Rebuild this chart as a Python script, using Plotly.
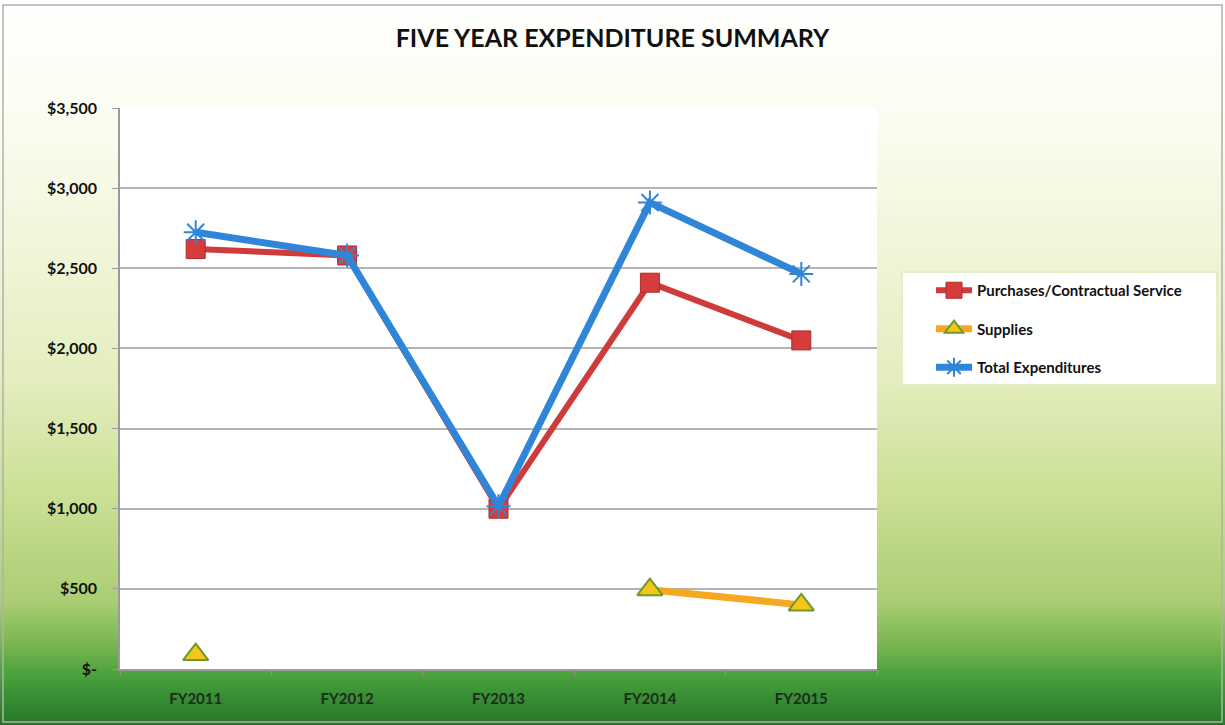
import base64
import plotly.graph_objects as go

years = ["FY2011", "FY2012", "FY2013", "FY2014", "FY2015"]
purchases = [2620, 2580, 1000, 2410, 2050]
supplies = [90, None, None, 495, 400]
total = [2725, 2580, 1015, 2910, 2465]

y_tickvals = [0, 500, 1000, 1500, 2000, 2500, 3000, 3500]
y_ticktext = ["$-", "$500", "$1,000", "$1,500", "$2,000", "$2,500", "$3,000", "$3,500"]

W, H = 1225, 725
ml, mr, mt, mb = 120, 348, 108, 56
pw, ph = W - ml - mr, H - mt - mb

svg = f'''<svg xmlns="http://www.w3.org/2000/svg" width="{W}" height="{H}" viewBox="0 0 {W} {H}" preserveAspectRatio="none">
<defs><linearGradient id="g" x1="0" y1="0" x2="0" y2="1">
<stop offset="0" stop-color="#ffffff"/>
<stop offset="0.15" stop-color="#fcfdf2"/>
<stop offset="0.35" stop-color="#f1f5d8"/>
<stop offset="0.53" stop-color="#e3edbd"/>
<stop offset="0.69" stop-color="#c9df93"/>
<stop offset="0.83" stop-color="#aacd74"/>
<stop offset="0.885" stop-color="#7cb852"/>
<stop offset="0.94" stop-color="#439c3a"/>
<stop offset="1" stop-color="#26742a"/>
</linearGradient></defs>
<rect x="0" y="0" width="{W}" height="{H}" fill="url(#g)"/>
<rect x="3" y="5" width="{W-6}" height="{H-8}" fill="none" stroke="#b0b0b0" stroke-width="1.5"/>
</svg>'''
src = "data:image/svg+xml;base64," + base64.b64encode(svg.encode()).decode()

def px_x(p):
    return (p - ml) / pw

def px_y(p):
    return (H - mb - p) / ph

fig = go.Figure()
fig.add_trace(go.Scatter(
    x=years, y=purchases, name="Purchases/Contractual Service", mode="lines+markers",
    line=dict(color="#cf3a3b", width=6),
    marker=dict(symbol="square", size=19, color="#d63c3c", line=dict(color="#b02a2a", width=1)),
    legendgroup="a"))
fig.add_trace(go.Scatter(
    x=years, y=supplies, name="Supplies", mode="lines+markers", connectgaps=False,
    line=dict(color="#f7a822", width=7),
    marker=dict(symbol="triangle-up", size=22, color="#f5c518", line=dict(color="#6d9a2c", width=2)),
    legendgroup="b"))
fig.add_trace(go.Scatter(
    x=years, y=total, name="Total Expenditures", mode="lines+markers",
    line=dict(color="#2f86d8", width=7),
    marker=dict(symbol="asterisk-open", size=20, color="#2f86d8", line=dict(color="#2f86d8", width=2)),
    legendgroup="c"))

fig.update_layout(
    width=W, height=H,
    margin=dict(l=ml, r=mr, t=mt, b=mb, autoexpand=False),
    paper_bgcolor="#ffffff",
    plot_bgcolor="#ffffff",
    images=[dict(source=src, xref="paper", yref="paper",
                 x=-ml / pw, y=1 + mt / ph, sizex=W / pw, sizey=H / ph,
                 xanchor="left", yanchor="top", sizing="stretch", layer="below")],
    shapes=[
        dict(type="rect", xref="paper", yref="paper", x0=0, x1=1, y0=0, y1=1,
             fillcolor="#ffffff", line=dict(width=0), layer="below"),
        dict(type="rect", xref="paper", yref="paper",
             x0=px_x(902), x1=px_x(1217), y0=px_y(385), y1=px_y(272),
             fillcolor="#ffffff", line=dict(color="#e4ecc8", width=2), layer="below"),
    ],
    title=dict(text="<b>FIVE YEAR EXPENDITURE SUMMARY</b>", x=0.5, xanchor="center",
               y=1 - 38 / H, yanchor="middle",
               font=dict(family="Lato", size=25, color="#111111")),
    font=dict(family="Lato", color="#111111"),
    showlegend=True,
    legend=dict(x=px_x(931), y=px_y(274), xanchor="left", yanchor="top",
                bgcolor="rgba(0,0,0,0)", borderwidth=0,
                font=dict(family="Lato", size=15, color="#111111", weight="bold"),
                tracegroupgap=16, itemwidth=36,
                traceorder="grouped"),
    xaxis=dict(range=[-0.5, 4.5], showgrid=False, showline=True, linecolor="#9a9a9a", linewidth=1.5,
               ticks="outside", ticklen=4, tickcolor="#9a9a9a", tickson="boundaries",
               tickfont=dict(family="Lato", size=15, color="#1a2e1a", weight="bold"),
               ticklabelstandoff=15, fixedrange=True),
    yaxis=dict(range=[0, 3500], tickvals=y_tickvals, ticktext=y_ticktext,
               showgrid=True, gridcolor="#b4b4b4", gridwidth=1.5,
               showline=True, linecolor="#9a9a9a", linewidth=1.5, zeroline=False,
               ticks="outside", ticklen=6, tickcolor="#9a9a9a",
               tickfont=dict(family="Lato", size=16, color="#111111", weight="bold"),
               ticklabelstandoff=12, fixedrange=True),
)

fig.write_html("out.html", config={"displayModeBar": False},
               post_script="document.body.style.margin='0';document.body.style.padding='0';")
